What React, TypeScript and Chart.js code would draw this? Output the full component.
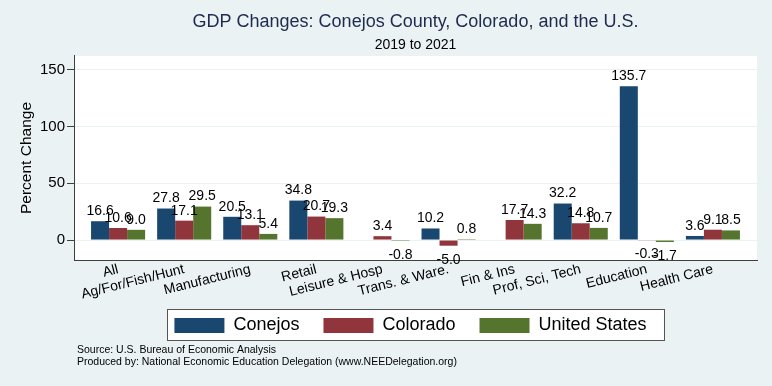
import React, { useEffect, useRef } from "react";
import { Chart, registerables } from "chart.js";

Chart.register(...registerables);

const categories = [
  "All",
  "Ag/For/Fish/Hunt",
  "Manufacturing",
  "Retail",
  "Leisure & Hosp",
  "Trans. & Ware.",
  "Fin & Ins",
  "Prof, Sci, Tech",
  "Education",
  "Health Care",
];
const conejos: (number | null)[] = [16.6, 27.8, 20.5, 34.8, null, 10.2, null, 32.2, 135.7, 3.6];
const colorado: (number | null)[] = [10.6, 17.1, 13.1, 20.7, 3.4, -5.0, 17.7, 14.8, -0.3, 9.1];
const unitedStates: (number | null)[] = [9.0, 29.5, 5.4, 19.3, -0.8, 0.8, 14.3, 10.7, -1.7, 8.5];
const yTicks = [0, 50, 100, 150];

const FONT = "'Liberation Sans', Arial, Helvetica, sans-serif";
const BG = "#EAF2F3";
const AXIS = "#3f3f3f";

const toPoints = (arr: (number | null)[]) => arr.map((v, i) => ({ x: i, y: v }));

const decorPlugin = {
  id: "decor",
  afterLayout(chart: any) {
    const lg = chart.legend;
    if (lg) {
      lg.left -= 5;
      lg.right -= 5;
    }
  },
  beforeDraw(chart: any) {
    const { ctx, chartArea } = chart;
    ctx.save();
    ctx.fillStyle = BG;
    ctx.fillRect(0, 0, chart.width, chart.height);
    ctx.fillStyle = "#ffffff";
    ctx.fillRect(chartArea.left, chartArea.top, chartArea.right - chartArea.left, chartArea.bottom - chartArea.top);
    // legend frame
    const lg = chart.legend;
    if (lg && lg.legendHitBoxes && lg.legendHitBoxes.length) {
      const hb = lg.legendHitBoxes;
      let l = Infinity, r = -Infinity, t = Infinity, b = -Infinity;
      hb.forEach((h: any) => {
        l = Math.min(l, h.left);
        r = Math.max(r, h.left + h.width);
        t = Math.min(t, h.top);
        b = Math.max(b, h.top + h.height);
      });
      const fl = Math.round(l - 7) + 0.5;
      const fr = Math.round(r + 17) + 0.5;
      const ft = Math.round(t - 8) + 0.5;
      const fb = Math.round(b + 5) + 0.5;
      ctx.fillStyle = "#ffffff";
      ctx.fillRect(fl, ft, fr - fl, fb - ft);
      ctx.strokeStyle = "#555555";
      ctx.lineWidth = 1;
      ctx.strokeRect(fl, ft, fr - fl, fb - ft);
    }
    ctx.restore();
  },
  afterDraw(chart: any) {
    const { ctx } = chart;
    ctx.save();
    ctx.fillStyle = "#000000";
    ctx.font = `10.5px ${FONT}`;
    ctx.textAlign = "left";
    ctx.textBaseline = "middle";
    ctx.fillText("Source: U.S. Bureau of Economic Analysis", 77, 350);
    ctx.fillText("Produced by: National Economic Education Delegation (www.NEEDelegation.org)", 77, 362);
    ctx.restore();
  },
};

const labelPlugin = {
  id: "barLabels",
  afterDatasetsDraw(chart: any) {
    const { ctx } = chart;
    ctx.save();
    ctx.font = `14px ${FONT}`;
    ctx.fillStyle = "#000000";
    ctx.textAlign = "center";
    chart.data.datasets.forEach((ds: any, di: number) => {
      const meta = chart.getDatasetMeta(di);
      meta.data.forEach((el: any, i: number) => {
        const v = ds.data[i].y;
        if (v === null || v === undefined) return;
        const txt = v.toFixed(1);
        if (v >= 0) {
          ctx.textBaseline = "bottom";
          ctx.fillText(txt, el.x, el.y - 3);
        } else {
          ctx.textBaseline = "top";
          ctx.fillText(txt, el.x, el.y + 7);
        }
      });
    });
    ctx.restore();
  },
};

export default function App() {
  const ref = useRef<HTMLCanvasElement>(null);
  useEffect(() => {
    if (!ref.current) return;
    Chart.defaults.font.family = FONT;
    const chart = new Chart(ref.current, {
      type: "bar",
      data: {
        datasets: [
          { label: "Conejos", data: toPoints(conejos), backgroundColor: "#1A476F", borderColor: "#1A476F", borderWidth: 0 },
          { label: "Colorado", data: toPoints(colorado), backgroundColor: "#90353B", borderColor: "#90353B", borderWidth: 0 },
          { label: "United States", data: toPoints(unitedStates), backgroundColor: "#55752F", borderColor: "#55752F", borderWidth: 0 },
        ],
      },
      options: {
        animation: false,
        responsive: false,
        devicePixelRatio: 1,
        categoryPercentage: 0.818,
        barPercentage: 1.0,
        layout: { padding: { left: 0, right: 15, top: 0, bottom: 41.5 } },
        plugins: {
          title: {
            display: true,
            text: "GDP Changes: Conejos County, Colorado, and the U.S.",
            fullSize: false,
            color: "#1E2A4E",
            font: { size: 18, weight: "normal", family: FONT, lineHeight: 1.2 },
            padding: { top: 11, bottom: 1 },
          },
          subtitle: {
            display: true,
            text: "2019 to 2021",
            fullSize: false,
            color: "#000000",
            font: { size: 14, weight: "normal", family: FONT, lineHeight: 1.2 },
            padding: { top: 3, bottom: 2.6 },
          },
          legend: {
            display: true,
            position: "bottom",
            fullSize: false,
            labels: {
              boxWidth: 50,
              boxHeight: 15,
              padding: 24,
              color: "#000000",
              font: { size: 18, family: FONT },
            },
          },
          tooltip: { enabled: false },
        },
        scales: {
          x: {
            type: "linear",
            min: -0.667,
            max: 9.667,
            offset: false,
            afterBuildTicks: (scale: any) => {
              scale.ticks = categories.map((_, i) => ({ value: i }));
            },
            afterFit: (scale: any) => {
              scale.height = 32.5;
              scale._computeLabelArea = () => undefined;
            },
            grid: { display: false, drawTicks: false, tickLength: 0 },
            border: { display: true, color: AXIS, width: 1 },
            ticks: {
              autoSkip: false,
              maxRotation: 14,
              minRotation: 14,
              padding: 1,
              color: "#000000",
              font: { size: 14, family: FONT },
              callback: (v: any) => categories[Math.round(Number(v))] ?? "",
            },
          },
          y: {
            type: "linear",
            min: -17.6,
            max: 162.3,
            afterBuildTicks: (scale: any) => {
              scale.ticks = yTicks.map((v) => ({ value: v }));
            },
            afterFit: (scale: any) => {
              scale.width = 74;
            },
            grid: { color: BG, tickColor: AXIS, tickLength: 7, lineWidth: 1 },
            border: { display: true, color: AXIS, width: 1 },
            ticks: {
              padding: 2,
              color: "#000000",
              font: { size: 15, family: FONT },
            },
            title: {
              display: true,
              text: "Percent Change",
              color: "#000000",
              font: { size: 15.5, family: FONT },
              padding: { top: 17, bottom: 0 },
            },
          },
        },
      },
      plugins: [decorPlugin, labelPlugin],
    } as any);
    return () => chart.destroy();
  }, []);
  return (
    <div style={{ position: "fixed", left: 0, top: 0, width: 772, height: 386, background: BG }}>
      <canvas ref={ref} width={772} height={386} style={{ width: 772, height: 386, display: "block" }} />
    </div>
  );
}
